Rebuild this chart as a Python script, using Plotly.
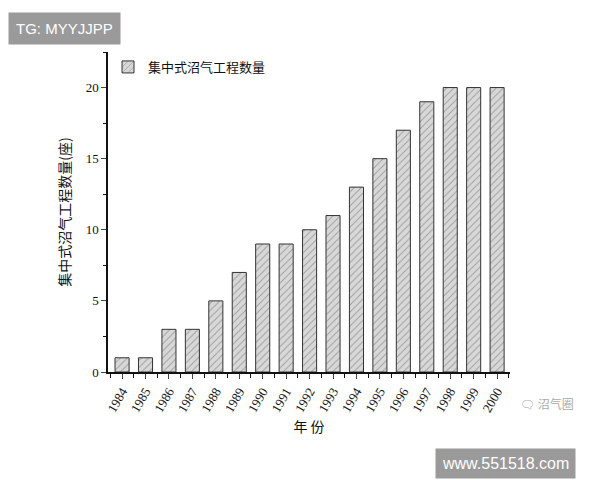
import plotly.graph_objects as go

years = [str(y) for y in range(1984, 2001)]
counts = [1, 1, 3, 3, 5, 7, 9, 9, 10, 11, 13, 15, 17, 19, 20, 20, 20]
series_name = "集中式沼气工程数量"

F = "Noto Sans CJK SC"
fig = go.Figure()
fig.add_trace(go.Bar(
    x=list(range(len(years))), y=counts, name=series_name, width=0.6,
    marker=dict(color="#d0d0d0", line=dict(color="#333", width=1),
                pattern=dict(shape="/", fgcolor="#666", bgcolor="#d8d8d8", size=5, solidity=0.2)),
))
fig.update_layout(
    width=600, height=480, paper_bgcolor="white", plot_bgcolor="white",
    margin=dict(l=100, r=98, t=44, b=116),
    font=dict(family=F, color="#111"),
    showlegend=True,
    legend=dict(x=0.0, y=1.0, xanchor="left", yanchor="top", font=dict(size=13, family=F)),
    xaxis=dict(range=[-0.6, 16.55], tickmode="array", tickvals=list(range(len(years))), ticktext=years,
               tickangle=-60, ticks="outside", ticklen=5, showline=True, linecolor="#111", linewidth=1.5,
               showgrid=False, zeroline=False, tickfont=dict(family="Liberation Serif", size=13),
               minor=dict(ticks="outside", ticklen=4, dtick=1, tick0=0.5, tickcolor="#111"),
               title=dict(text="年 份", font=dict(size=14), standoff=8)),
    yaxis=dict(range=[0, 22.5], tickvals=[0, 5, 10, 15, 20], ticks="outside", ticklen=5,
               showline=True, linecolor="#111", linewidth=1.5, showgrid=False, zeroline=False,
               tickfont=dict(family="Liberation Serif", size=13),
               minor=dict(ticks="outside", ticklen=3, dtick=2.5, tickcolor="#111"),
               title=dict(text="集中式沼气工程数量(座)", font=dict(size=14), standoff=12)),
)
fig.add_annotation(xref="paper", yref="paper", x=-100/402, y=1 + 40/320, text="TG: MYYJJPP",
                   showarrow=False, xanchor="left", yanchor="top", bgcolor="#9a9a9a",
                   font=dict(color="white", size=15, family="Liberation Sans"), borderpad=7)
fig.add_annotation(xref="paper", yref="paper", x=1.02, y=-0.13, text="🗨 沼气圈", showarrow=False,
                   xanchor="left", font=dict(color="#aaa", size=12))
fig.add_annotation(xref="paper", yref="paper", x=(427-100)/402, y=-(440-364)/320, text="www.551518.com",
                   showarrow=False, xanchor="left", yanchor="top", bgcolor="#9a9a9a",
                   font=dict(color="white", size=16, family="Liberation Sans"), borderpad=6)
fig.write_html("out.html")
